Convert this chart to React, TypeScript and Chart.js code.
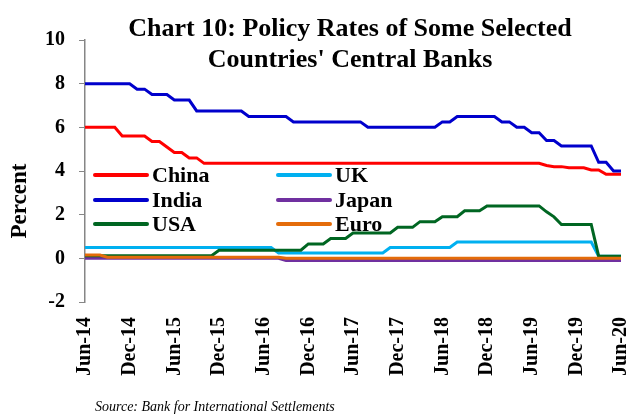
import React, { useEffect, useRef } from "react";
import { Chart, registerables } from "chart.js";

Chart.register(...registerables);

const LABELS = [
  "Jun-14","Jul-14","Aug-14","Sep-14","Oct-14","Nov-14","Dec-14",
  "Jan-15","Feb-15","Mar-15","Apr-15","May-15","Jun-15","Jul-15","Aug-15","Sep-15","Oct-15","Nov-15","Dec-15",
  "Jan-16","Feb-16","Mar-16","Apr-16","May-16","Jun-16","Jul-16","Aug-16","Sep-16","Oct-16","Nov-16","Dec-16",
  "Jan-17","Feb-17","Mar-17","Apr-17","May-17","Jun-17","Jul-17","Aug-17","Sep-17","Oct-17","Nov-17","Dec-17",
  "Jan-18","Feb-18","Mar-18","Apr-18","May-18","Jun-18","Jul-18","Aug-18","Sep-18","Oct-18","Nov-18","Dec-18",
  "Jan-19","Feb-19","Mar-19","Apr-19","May-19","Jun-19","Jul-19","Aug-19","Sep-19","Oct-19","Nov-19","Dec-19",
  "Jan-20","Feb-20","Mar-20","Apr-20","May-20","Jun-20",
];

const CHINA = [
  6.0, 6.0, 6.0, 6.0, 6.0, 5.6, 5.6,
  5.6, 5.6, 5.35, 5.35, 5.1, 4.85, 4.85, 4.6, 4.6, 4.35, 4.35, 4.35,
  4.35, 4.35, 4.35, 4.35, 4.35, 4.35, 4.35, 4.35, 4.35, 4.35, 4.35, 4.35,
  4.35, 4.35, 4.35, 4.35, 4.35, 4.35, 4.35, 4.35, 4.35, 4.35, 4.35, 4.35,
  4.35, 4.35, 4.35, 4.35, 4.35, 4.35, 4.35, 4.35, 4.35, 4.35, 4.35, 4.35,
  4.35, 4.35, 4.35, 4.35, 4.35, 4.35, 4.35, 4.25, 4.2, 4.2, 4.15, 4.15,
  4.15, 4.05, 4.05, 3.85, 3.85, 3.85,
];

const INDIA = [
  8.0, 8.0, 8.0, 8.0, 8.0, 8.0, 8.0,
  7.75, 7.75, 7.5, 7.5, 7.5, 7.25, 7.25, 7.25, 6.75, 6.75, 6.75, 6.75,
  6.75, 6.75, 6.75, 6.5, 6.5, 6.5, 6.5, 6.5, 6.5, 6.25, 6.25, 6.25,
  6.25, 6.25, 6.25, 6.25, 6.25, 6.25, 6.25, 6.0, 6.0, 6.0, 6.0, 6.0,
  6.0, 6.0, 6.0, 6.0, 6.0, 6.25, 6.25, 6.5, 6.5, 6.5, 6.5, 6.5,
  6.5, 6.25, 6.25, 6.0, 6.0, 5.75, 5.75, 5.4, 5.4, 5.15, 5.15, 5.15,
  5.15, 5.15, 4.4, 4.4, 4.0, 4.0,
];

const USA = [
  0.12, 0.12, 0.12, 0.12, 0.12, 0.12, 0.12,
  0.12, 0.12, 0.12, 0.12, 0.12, 0.12, 0.12, 0.12, 0.12, 0.12, 0.12, 0.37,
  0.37, 0.37, 0.37, 0.37, 0.37, 0.37, 0.37, 0.37, 0.37, 0.37, 0.37, 0.66,
  0.66, 0.66, 0.91, 0.91, 0.91, 1.16, 1.16, 1.16, 1.16, 1.16, 1.16, 1.42,
  1.42, 1.42, 1.68, 1.68, 1.68, 1.91, 1.91, 1.91, 2.18, 2.18, 2.18, 2.4,
  2.4, 2.4, 2.4, 2.4, 2.4, 2.4, 2.4, 2.13, 1.9, 1.55, 1.55, 1.55,
  1.55, 1.55, 0.1, 0.1, 0.1, 0.1,
];

const UK = [
  0.5, 0.5, 0.5, 0.5, 0.5, 0.5, 0.5,
  0.5, 0.5, 0.5, 0.5, 0.5, 0.5, 0.5, 0.5, 0.5, 0.5, 0.5, 0.5,
  0.5, 0.5, 0.5, 0.5, 0.5, 0.5, 0.5, 0.25, 0.25, 0.25, 0.25, 0.25,
  0.25, 0.25, 0.25, 0.25, 0.25, 0.25, 0.25, 0.25, 0.25, 0.25, 0.5, 0.5,
  0.5, 0.5, 0.5, 0.5, 0.5, 0.5, 0.5, 0.75, 0.75, 0.75, 0.75, 0.75,
  0.75, 0.75, 0.75, 0.75, 0.75, 0.75, 0.75, 0.75, 0.75, 0.75, 0.75, 0.75,
  0.75, 0.75, 0.1, 0.1, 0.1, 0.1,
];

const JAPAN = [
  0, 0, 0, 0, 0, 0, 0,
  0, 0, 0, 0, 0, 0, 0, 0, 0, 0, 0, 0,
  0, 0, 0, 0, 0, 0, 0, 0, -0.1, -0.1, -0.1, -0.1,
  -0.1, -0.1, -0.1, -0.1, -0.1, -0.1, -0.1, -0.1, -0.1, -0.1, -0.1, -0.1,
  -0.1, -0.1, -0.1, -0.1, -0.1, -0.1, -0.1, -0.1, -0.1, -0.1, -0.1, -0.1,
  -0.1, -0.1, -0.1, -0.1, -0.1, -0.1, -0.1, -0.1, -0.1, -0.1, -0.1, -0.1,
  -0.1, -0.1, -0.1, -0.1, -0.1, -0.1,
];

const EURO = [
  0.15, 0.15, 0.15, 0.05, 0.05, 0.05, 0.05,
  0.05, 0.05, 0.05, 0.05, 0.05, 0.05, 0.05, 0.05, 0.05, 0.05, 0.05, 0.05,
  0.05, 0.05, 0.05, 0.05, 0.05, 0.05, 0.05, 0.05, 0, 0, 0, 0,
  0, 0, 0, 0, 0, 0, 0, 0, 0, 0, 0, 0,
  0, 0, 0, 0, 0, 0, 0, 0, 0, 0, 0, 0,
  0, 0, 0, 0, 0, 0, 0, 0, 0, 0, 0, 0,
  0, 0, 0, 0, 0, 0,
];

const Y_TICKS = [-2, 0, 2, 4, 6, 8, 10];
const TITLE_LINES = ["Chart 10: Policy Rates of Some Selected", "Countries' Central Banks"];
const Y_TITLE = "Percent";
const SOURCE = "Source: Bank for International Settlements";

const SERIES = [
  { label: "China", data: CHINA, color: "#FF0000", order: 5 },
  { label: "UK", data: UK, color: "#00B0F0", order: 4 },
  { label: "India", data: INDIA, color: "#0000CC", order: 3 },
  { label: "Japan", data: JAPAN, color: "#7030A0", order: 2 },
  { label: "USA", data: USA, color: "#006622", order: 1 },
  { label: "Euro", data: EURO, color: "#E46C0A", order: 0 },
];

const FONT = "'Liberation Serif', 'Times New Roman', serif";

const extrasPlugin = {
  id: "extras",
  afterDraw(chart: any) {
    const ctx = chart.ctx;
    ctx.save();
    ctx.fillStyle = "#000";
    // title
    ctx.font = `bold 26px ${FONT}`;
    ctx.textAlign = "center";
    ctx.textBaseline = "alphabetic";
    ctx.fillText(TITLE_LINES[0], 350, 36);
    ctx.fillText(TITLE_LINES[1], 350, 67);
    // y title
    ctx.save();
    ctx.translate(20, 201);
    ctx.rotate(-Math.PI / 2);
    ctx.font = `bold 23px ${FONT}`;
    ctx.textAlign = "center";
    ctx.textBaseline = "middle";
    ctx.fillText(Y_TITLE, 0, 0);
    ctx.restore();
    // legend
    const ds = chart.data.datasets;
    const colX = [95, 278];
    const rowY = [175, 200, 224];
    ctx.font = `bold 22px ${FONT}`;
    ctx.textAlign = "left";
    ctx.textBaseline = "middle";
    ds.forEach((d: any, i: number) => {
      const c = i % 2;
      const r = Math.floor(i / 2);
      const x = colX[c];
      const y = rowY[r];
      ctx.strokeStyle = d.borderColor;
      ctx.lineWidth = 4;
      ctx.lineCap = "round";
      ctx.beginPath();
      ctx.moveTo(x, y);
      ctx.lineTo(x + 52, y);
      ctx.stroke();
      ctx.fillStyle = "#000";
      ctx.fillText(d.label, x + 57, y + 1);
    });
    // source
    ctx.font = `italic 14px ${FONT}`;
    ctx.textAlign = "left";
    ctx.textBaseline = "alphabetic";
    ctx.fillText(SOURCE, 95, 411);
    ctx.restore();
  },
};

export default function App() {
  const ref = useRef<HTMLCanvasElement>(null);
  useEffect(() => {
    if (!ref.current) return;
    const chart = new Chart(ref.current, {
      type: "line",
      data: {
        labels: LABELS,
        datasets: SERIES.map((s) => ({
          label: s.label,
          data: s.data,
          borderColor: s.color,
          backgroundColor: s.color,
          borderWidth: 3,
          pointRadius: 0,
          tension: 0,
          fill: false,
          order: s.order,
        })),
      },
      options: {
        responsive: false,
        animation: false,
        devicePixelRatio: 1,
        layout: { padding: { top: 40, right: 11, left: 0, bottom: 0 } },
        plugins: {
          legend: { display: false },
          title: { display: false },
          tooltip: { enabled: false },
        },
        scales: {
          x: {
            type: "category",
            offset: false,
            grid: { display: false, drawTicks: false },
            border: { display: false },
            ticks: {
              autoSkip: false,
              maxRotation: 90,
              minRotation: 90,
              padding: 15,
              color: "#000",
              font: { family: FONT, size: 20, weight: "bold" },
              callback: (_v: any, i: number) => (i % 6 === 0 ? LABELS[i] : null),
            },
            afterFit: (s: any) => {
              s.height = 112;
              s.paddingLeft = 0;
              s.paddingRight = 0;
            },
          },
          y: {
            min: -2,
            max: 10,
            afterBuildTicks: (s: any) => {
              s.ticks = Y_TICKS.map((v) => ({ value: v }));
            },
            grid: {
              display: true,
              drawOnChartArea: false,
              drawTicks: true,
              tickLength: 6,
              color: "#868686",
              lineWidth: 1,
            },
            border: { display: true, color: "#868686", width: 1.5 },
            ticks: {
              padding: 14,
              color: "#000",
              font: { family: FONT, size: 20, weight: "bold" },
            },
            afterFit: (s: any) => {
              s.width = 85;
              s.paddingTop = 0;
              s.paddingBottom = 0;
            },
          },
        },
      },
      plugins: [extrasPlugin],
    });
    return () => chart.destroy();
  }, []);
  return (
    <div style={{ position: "fixed", left: 0, top: 0, width: 632, height: 414, background: "#fff" }}>
      <canvas ref={ref} width={632} height={414} style={{ width: 632, height: 414, display: "block" }} />
    </div>
  );
}
